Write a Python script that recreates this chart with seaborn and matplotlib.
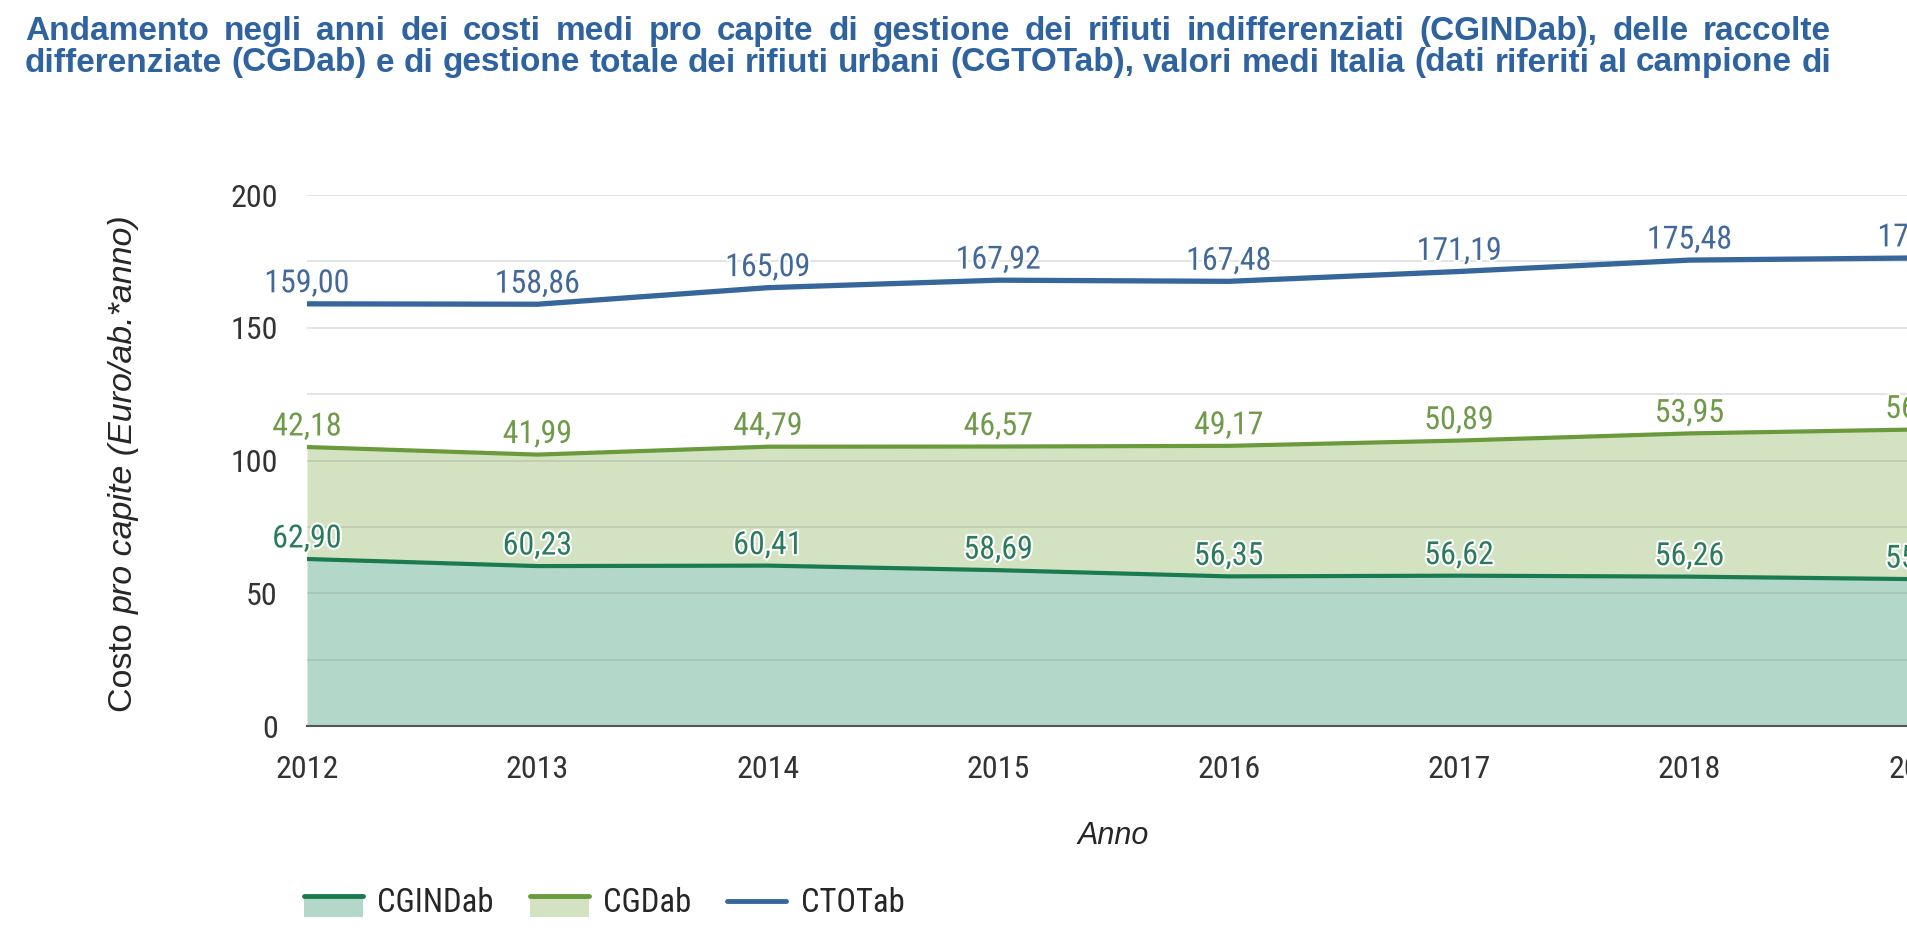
import matplotlib
matplotlib.use("Agg")
import matplotlib.pyplot as plt
import matplotlib.patheffects as pe
from matplotlib import font_manager
from matplotlib.patches import Rectangle
from matplotlib.lines import Line2D
from matplotlib.ticker import MultipleLocator
import seaborn as sns
import pandas as pd

# Data (2019 values are cut off at the right edge, estimated)
years = [2012, 2013, 2014, 2015, 2016, 2017, 2018, 2019]
cgind = [62.90, 60.23, 60.41, 58.69, 56.35, 56.62, 56.26, 55.30]
cgd = [42.18, 41.99, 44.79, 46.57, 49.17, 50.89, 53.95, 56.40]
ctot = [159.00, 158.86, 165.09, 167.92, 167.48, 171.19, 175.48, 176.30]
series_names = ["CGINDab", "CGDab", "CTOTab"]

title_lines = [
    "Andamento negli anni dei costi medi pro capite di gestione dei rifiuti indifferenziati (CGINDab), delle raccolte",
    "differenziate (CGDab) e di gestione totale dei rifiuti urbani (CGTOTab), valori medi Italia (dati riferiti al campione di",
]

# colours
C_IND_LINE, C_IND_FILL, C_IND_TXT = "#1b7b50", "#b3d8c9", "#2a7a5c"
C_D_LINE, C_D_FILL, C_D_TXT = "#6a9a3c", "#d3e2c0", "#6f9a4a"
C_TOT_LINE, C_TOT_TXT = "#37669b", "#43699a"
TITLE_COL = "#2f63a0"

sns.set_theme(style="white")

# the chart texts use a narrow Arial-like face; take one if it is installed
installed = {f.name for f in font_manager.fontManager.ttflist}
FONT, k = "Liberation Sans", 0.84
for cand in ["Liberation Sans Narrow", "Arial Narrow", "Roboto Condensed", "Archivo Narrow", "PT Sans Narrow"]:
    if cand in installed:
        FONT, k = cand, 1.0
        break
WIDE = ["Liberation Sans", "DejaVu Sans"]
plt.rcParams["font.family"] = [FONT] + WIDE

FS_TICK, FS_VAL, FS_LEG = 23 * k, 23 * k, 23.5 * k

df = pd.DataFrame({"Anno": years, "CGINDab": cgind, "CGDab": cgd, "CTOTab": ctot})
df["CGD_stack"] = df["CGINDab"] + df["CGDab"]

W, H = 1908, 930
fig = plt.figure(figsize=(W / 100, H / 100), dpi=100)
ax = fig.add_axes([307 / W, 1 - 726 / H, (1920 - 307) / W, (726 - 195) / H])

# stacked areas
ax.fill_between(df["Anno"], 0, df["CGINDab"], color=C_IND_FILL, lw=0, zorder=1)
ax.fill_between(df["Anno"], df["CGINDab"], df["CGD_stack"], color=C_D_FILL, lw=0, zorder=1)

sns.lineplot(data=df, x="Anno", y="CGINDab", ax=ax, color=C_IND_LINE, lw=3, zorder=4)
sns.lineplot(data=df, x="Anno", y="CGD_stack", ax=ax, color=C_D_LINE, lw=3, zorder=4)
sns.lineplot(data=df, x="Anno", y="CTOTab", ax=ax, color=C_TOT_LINE, lw=3.8, zorder=4)

ax.set_xlim(2012, 2019)
ax.set_ylim(0, 200)
ax.yaxis.set_major_locator(MultipleLocator(50))
ax.yaxis.set_minor_locator(MultipleLocator(25))
ax.set_xticks(years)
ax.grid(True, which="both", axis="y", color="#808080", alpha=0.25, lw=1.2, zorder=3)
ax.set_axisbelow(False)
ax.tick_params(axis="both", which="both", length=0, labelsize=FS_TICK, colors="#333333")
ax.tick_params(axis="y", pad=21)
ax.tick_params(axis="x", pad=21)
for s in ["top", "right", "left"]:
    ax.spines[s].set_visible(False)
ax.spines["bottom"].set_color("#555555")
ax.spines["bottom"].set_linewidth(1.5)
ax.spines["bottom"].set_zorder(5)
ax.set_xlabel("")
ax.set_ylabel("")

# value labels
halo = [pe.withStroke(linewidth=3, foreground="white")]
def fmt(v):
    return f"{v:.2f}".replace(".", ",")

for yr, a, b, t in zip(years, cgind, cgd, ctot):
    for val, ypos, col in [(a, a, C_IND_TXT), (b, a + b, C_D_TXT), (t, t, C_TOT_TXT)]:
        ax.annotate(fmt(val), (yr, ypos), xytext=(0, 4), textcoords="offset points",
                    ha="center", va="bottom", fontsize=FS_VAL, color=col,
                    path_effects=halo, annotation_clip=False, zorder=6)

# axis titles
renderer = fig.canvas.get_renderer()
fig.text(1113 / W, 1 - 836 / H, "Anno", ha="center", va="center", fontsize=22,
         style="italic", family=WIDE)
costo = fig.text(124 / W, 1 - 712 / H, "Costo ", rotation=90, ha="center", va="bottom",
                 fontsize=24.5, family=WIDE)
costo_h = costo.get_window_extent(renderer).height
fig.text(124 / W, 1 - (712 - costo_h) / H, "pro capite (Euro/ab.*anno)", rotation=90,
         ha="center", va="bottom", fontsize=24.5, style="italic", family=WIDE)

# justified title, sized so that the longer line fills the text block
X0, X1 = 25, 1831
probe = [fig.text(0, 0, ln, fontsize=10, fontweight="bold", family=WIDE) for ln in title_lines]
fs_title = 10 * (X1 - X0) / max(p.get_window_extent(renderer).width for p in probe)
for p in probe:
    p.remove()

def justify(line, ybase):
    words = line.split()
    texts = [fig.text(0, 1 - ybase / H, w, fontsize=fs_title, fontweight="bold", color=TITLE_COL,
                      va="baseline", family=WIDE) for w in words]
    widths = [t.get_window_extent(renderer).width for t in texts]
    gap = ((X1 - X0) - sum(widths)) / (len(words) - 1)
    x = X0
    for t, w in zip(texts, widths):
        t.set_x(x / W)
        x += w + gap

justify(title_lines[0], 40)
justify(title_lines[1], 71.5)

# legend
class AreaHandler:
    def __init__(self, line_col, fill_col):
        self.line_col, self.fill_col = line_col, fill_col
    def legend_artist(self, legend, orig_handle, fontsize, handlebox):
        x0, y0 = handlebox.xdescent, handlebox.ydescent
        w, h = handlebox.width, handlebox.height
        if self.fill_col is not None:
            handlebox.add_artist(Rectangle((x0, y0 - h * 0.2), w, h * 0.9, fc=self.fill_col, ec="none",
                                           transform=handlebox.get_transform()))
            ly = y0 + h * 0.7
        else:
            ly = y0 + h * 0.5
        ln = Line2D([x0, x0 + w], [ly, ly], color=self.line_col, lw=3.5,
                    transform=handlebox.get_transform())
        handlebox.add_artist(ln)
        return ln

keys = [Line2D([], []), Line2D([], []), Line2D([], [])]
handlers = {keys[0]: AreaHandler(C_IND_LINE, C_IND_FILL),
            keys[1]: AreaHandler(C_D_LINE, C_D_FILL),
            keys[2]: AreaHandler(C_TOT_LINE, None)}
fig.legend(keys, series_names, handler_map=handlers, loc="center left",
           bbox_to_anchor=(304 / W, 1 - 903 / H), ncol=3, frameon=False, fontsize=FS_LEG,
           handlelength=1.8, handletextpad=0.45, columnspacing=1.1, borderpad=0, borderaxespad=0)

fig.savefig("out.png", dpi=100)
